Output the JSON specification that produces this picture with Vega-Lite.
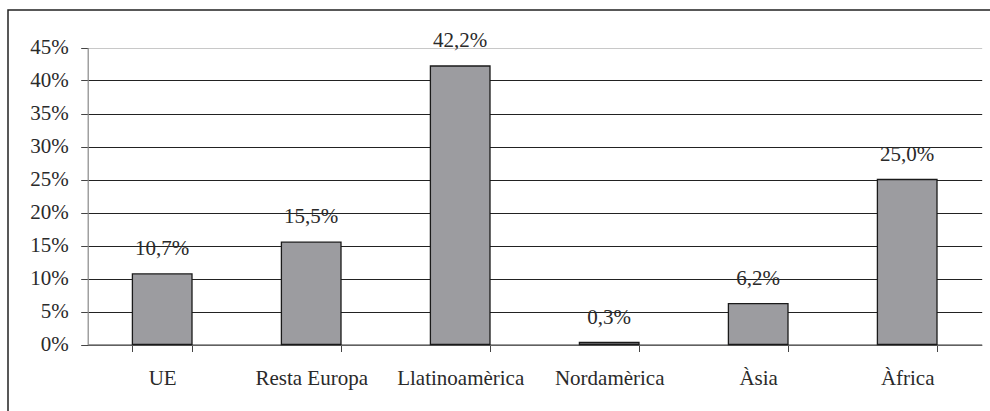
{
  "$schema": "https://vega.github.io/schema/vega-lite/v6.json",
  "autosize": {"type": "none"},
  "padding": {"left": 8, "top": 10, "right": 0, "bottom": 0},
  "width": 982,
  "height": 401,
  "background": "white",
  "config": {
    "locale": {"number": {"decimal": ",", "thousands": ".", "grouping": [3], "currency": ["", " €"]}},
    "view": {"stroke": "#222", "strokeWidth": 1.5, "strokeDash": [982, 1383, 401]},
    "font": "'Liberation Serif', 'Times New Roman', serif"
  },
  "data": {
    "values": [
      {"regio": "UE", "pct": 0.107},
      {"regio": "Resta Europa", "pct": 0.155},
      {"regio": "Llatinoamèrica", "pct": 0.422},
      {"regio": "Nordamèrica", "pct": 0.003},
      {"regio": "Àsia", "pct": 0.062},
      {"regio": "Àfrica", "pct": 0.25}
    ]
  },
  "encoding": {
    "x": {
      "field": "regio",
      "type": "nominal",
      "sort": null,
      "scale": {"range": [79.7, 973.7], "paddingInner": 0.6, "paddingOuter": 0.3},
      "axis": {
        "title": null,
        "orient": "bottom",
        "offset": -66.5,
        "labelAngle": 0,
        "tickBand": "extent",
        "tickSize": 7,
        "tickColor": "#444",
        "domainColor": "#777",
        "domainWidth": 1.5,
        "labelBaseline": "alphabetic",
        "labelPadding": 32.8,
        "labelFont": "'Liberation Serif', 'Times New Roman', serif",
        "labelFontSize": 21,
        "labelColor": "#2a2a2a"
      }
    },
    "y": {
      "field": "pct",
      "type": "quantitative",
      "scale": {"domain": [0, 0.45], "range": [334.5, 37.5], "nice": false, "zero": true},
      "axis": {
        "title": null,
        "offset": -79.7,
        "values": [0, 0.05, 0.1, 0.15, 0.2, 0.25, 0.3, 0.35, 0.4, 0.45],
        "format": ".0%",
        "grid": true,
        "gridColor": {"condition": {"test": "datum.value > 0.44", "value": "#c8c8c8"}, "value": "#222"},
        "gridOpacity": 1,
        "gridWidth": 1,
        "tickSize": 7,
        "tickColor": "#444",
        "domainColor": "#888",
        "domainWidth": 1.2,
        "labelPadding": 12.4,
        "labelFont": "'Liberation Serif', 'Times New Roman', serif",
        "labelFontSize": 21,
        "labelColor": "#2a2a2a"
      }
    }
  },
  "layer": [
    {
      "mark": {"type": "bar", "color": "#9c9ca0", "stroke": "#1a1a1a", "strokeWidth": 1.3}
    },
    {
      "mark": {"type": "text", "baseline": "alphabetic", "dy": -19, "font": "'Liberation Serif', 'Times New Roman', serif", "fontSize": 21, "color": "#2a2a2a"},
      "encoding": {"text": {"field": "pct", "type": "quantitative", "format": ".1%"}}
    }
  ]
}
